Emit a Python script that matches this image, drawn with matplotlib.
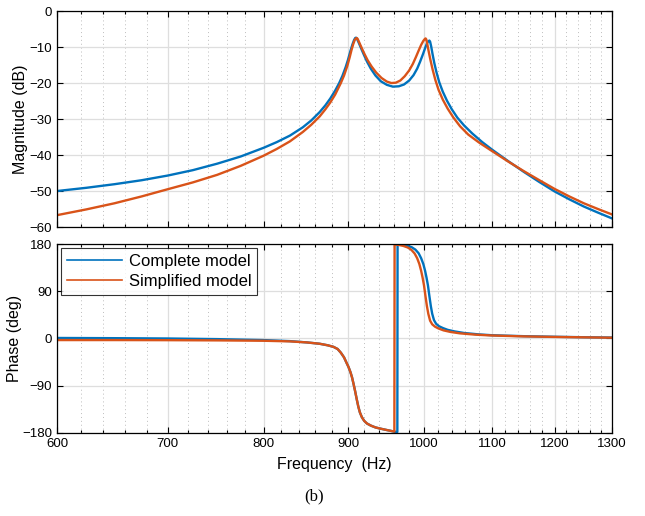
import numpy as np
import matplotlib
matplotlib.use('Agg')
import matplotlib.pyplot as plt
from matplotlib.ticker import FixedLocator, NullFormatter

plt.rcParams['font.family'] = ['Liberation Sans', 'DejaVu Sans']

# magnitude response (dB) - complete model
f_mag_c = [600, 625, 650, 675, 700, 725, 750, 775, 800, 815, 830, 845, 855, 865,
           872, 878, 884, 889, 893, 897, 900, 903, 905.5, 907.5, 909, 910, 911,
           912.5, 914.5, 917, 920, 924, 929, 935, 942, 950, 958, 966, 973, 980,
           986, 991, 995, 999, 1002, 1004.5, 1006.5, 1008, 1009, 1010.5, 1012.5,
           1015, 1018, 1022, 1027, 1033, 1040, 1048, 1058, 1070, 1085, 1100,
           1125, 1150, 1175, 1200, 1225, 1250, 1275, 1300]
mag_c = [-50.0, -49.1, -48.1, -47.0, -45.7, -44.2, -42.4, -40.4, -38.0, -36.4,
         -34.6, -32.3, -30.4, -28.1, -26.2, -24.3, -22.1, -20.0, -18.0, -15.6,
         -13.5, -11.1, -9.3, -8.1, -7.5, -7.4, -7.6, -8.3, -9.3, -10.6, -12.1,
         -14.0, -16.0, -17.9, -19.5, -20.5, -21.0, -20.9, -20.4, -19.3, -17.8,
         -16.0, -14.1, -12.0, -10.3, -9.0, -8.4, -8.2, -8.5, -9.8, -12.0, -14.5,
         -17.0, -19.8, -22.4, -24.9, -27.3, -29.6, -31.8, -34.0, -36.4, -38.5,
         -41.7, -44.7, -47.5, -50.1, -52.3, -54.3, -56.0, -57.6]

# magnitude response (dB) - simplified model
f_mag_s = [600, 625, 650, 675, 700, 725, 750, 775, 800, 815, 830, 845, 855, 865,
           872, 878, 884, 891, 895, 899, 902, 904.5, 906.5, 908.5, 910, 911, 912,
           913.5, 915.5, 918, 921, 925, 930, 936, 943, 950, 956, 962, 968, 974,
           980, 985, 989, 993, 996.5, 999.5, 1001.5, 1002.7, 1003.7, 1005, 1007,
           1009.5, 1012.5, 1016.5, 1021, 1027, 1034, 1042, 1052, 1064, 1080,
           1100, 1125, 1150, 1175, 1200, 1225, 1250, 1275, 1300]
mag_s = [-56.7, -55.1, -53.4, -51.5, -49.5, -47.6, -45.5, -43.0, -40.2, -38.3,
         -36.2, -33.6, -31.6, -29.3, -27.3, -25.4, -23.2, -20.0, -17.9, -15.3,
         -12.9, -10.7, -9.2, -8.0, -7.6, -7.5, -7.7, -8.4, -9.4, -10.6, -12.0,
         -13.7, -15.4, -17.1, -18.6, -19.6, -20.0, -19.9, -19.3, -18.1, -16.5,
         -14.7, -12.9, -11.0, -9.4, -8.3, -7.8, -7.6, -7.9, -9.1, -11.2, -13.6,
         -16.2, -19.2, -21.9, -24.6, -27.1, -29.5, -32.0, -34.3, -36.5, -38.9,
         -41.8, -44.5, -47.0, -49.4, -51.5, -53.4, -55.0, -56.5]

# phase response (deg), wrapped to +-180 - complete model
f_ph_c = [600, 650, 700, 750, 800, 830, 850, 865, 875, 882, 887, 891, 895, 898,
          900.5, 903, 905, 907, 909, 911, 913, 915, 917.5, 920.5, 924, 929, 935,
          942, 950, 956, 960, 964, 964.3, 971.5, 977.5, 983.5, 988.5, 993,
          996.5, 999.5, 1002, 1004, 1006, 1008, 1010, 1012, 1014.5, 1017.5,
          1021.5, 1027, 1034, 1044, 1058, 1080, 1100, 1150, 1200, 1250, 1300]
ph_c = [1, 0.6, 0, -1.2, -3, -5, -7.5, -10, -13, -16, -20, -27, -36, -46, -54,
        -64, -74, -87, -101, -116, -130, -141, -150, -157, -162, -166, -169.5,
        -172, -174.5, -176.3, -177.6, -178.3, 179.5, 178.8, 177, 174, 169.5,
        162.5, 153, 142, 129, 116, 101, 81, 62, 47, 35, 28, 23.5, 20, 16.5,
        13.5, 10.5, 7.8, 6.2, 4.4, 3.3, 2.4, 1.8]

# phase response (deg), wrapped to +-180 - simplified model
f_ph_s = [600, 650, 700, 750, 800, 830, 850, 865, 875, 882, 887, 891, 895, 898,
          900.5, 903, 905, 907, 909, 911, 913, 915, 917.5, 920.5, 924, 929, 935,
          942, 950, 956, 960, 960.3, 966, 972, 978, 983, 987.5, 991, 994, 996.5,
          998.5, 1000.5, 1002.5, 1004.5, 1006.5, 1009, 1012, 1016, 1021, 1028,
          1038, 1052, 1075, 1100, 1150, 1200, 1250, 1300]
ph_s = [-3, -3, -3.2, -3.6, -4.3, -5.5, -7.5, -10, -13, -16, -20, -27, -36, -46,
        -54, -64, -74, -87, -101, -116, -130, -141, -150, -157, -162, -166,
        -169.5, -172, -174.5, -176.3, -177.5, 179.2, 178.3, 176.5, 173.5, 169,
        162, 153, 142, 129, 116, 101, 81, 62, 47, 34, 27, 22.5, 19, 15.5, 12.5,
        9.8, 7.3, 5.7, 4, 3, 2.2, 1.5]

labels = ['Complete model', 'Simplified model']
blue = '#0072BD'
orange = '#D95319'

xmajor = [600, 700, 800, 900, 1000, 1100, 1200, 1300]
xminor = [v for v in range(620, 1300, 20) if v % 100 != 0]

fig = plt.figure(figsize=(6.45, 5.16), dpi=100)
ax1 = fig.add_axes([0.0884, 0.560, 0.8604, 0.4186])
ax2 = fig.add_axes([0.0884, 0.161, 0.8604, 0.366])


def style(ax):
    ax.set_xscale('log')
    ax.set_xlim(600, 1300)
    ax.xaxis.set_major_locator(FixedLocator(xmajor))
    ax.xaxis.set_minor_locator(FixedLocator(xminor))
    ax.xaxis.set_minor_formatter(NullFormatter())
    ax.set_axisbelow(True)
    ax.grid(True, which='major', color='#dedede', lw=0.9, ls='-')
    ax.grid(True, which='minor', axis='x', color='#bdbdbd', lw=0.7,
            ls=(0, (1, 3)))
    ax.tick_params(which='both', direction='in', top=True, right=True,
                   labelsize=9.5, width=0.8)
    ax.tick_params(which='major', length=4)
    ax.tick_params(which='minor', length=2.5)
    for s in ax.spines.values():
        s.set_linewidth(0.9)


ax1.plot(f_mag_c, mag_c, color=blue, lw=1.7)
ax1.plot(f_mag_s, mag_s, color=orange, lw=1.7)
style(ax1)
ax1.set_ylim(-60, 0)
ax1.set_yticks(range(-60, 1, 10))
ax1.xaxis.set_major_formatter(NullFormatter())
ax1.set_ylabel('Magnitude (dB)', fontsize=11.5, labelpad=1)

ax2.plot(f_ph_c, ph_c, color=blue, lw=1.7, label=labels[0])
ax2.plot(f_ph_s, ph_s, color=orange, lw=1.7, label=labels[1])
style(ax2)
ax2.set_ylim(-180, 180)
ax2.set_yticks([-180, -90, 0, 90, 180])
ax2.set_xticklabels([str(v) for v in xmajor])
ax2.set_ylabel('Phase (deg)', fontsize=11.5, labelpad=0)
ax2.set_xlabel('Frequency  (Hz)', fontsize=11.5, labelpad=5)
leg = ax2.legend(loc='upper left', fontsize=12, frameon=True, fancybox=False,
                 handlelength=3.3, borderaxespad=0.25, borderpad=0.35,
                 labelspacing=0.3, handletextpad=0.4)
leg.get_frame().set_edgecolor('black')
leg.get_frame().set_linewidth(0.8)
for ln in leg.get_lines():
    ln.set_linewidth(1.2)

fig.text(0.487, 0.038, '(b)', ha='center', va='center', fontsize=12,
         family=['Liberation Serif', 'DejaVu Serif'])

fig.savefig('out.png', dpi=100)
